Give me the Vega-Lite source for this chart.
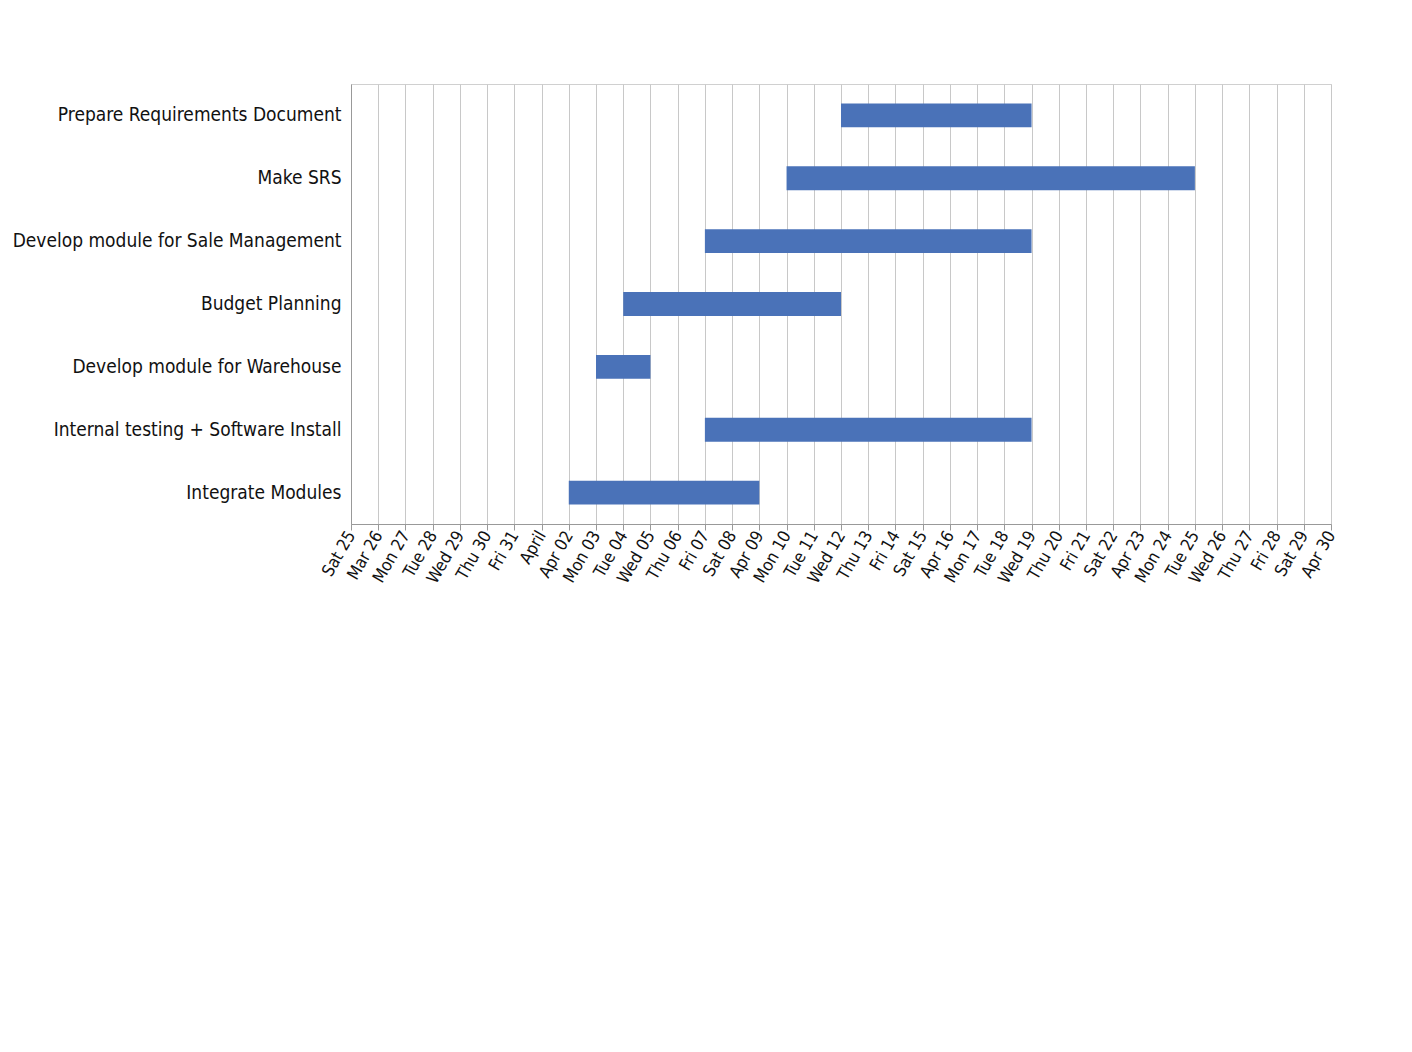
{
  "$schema": "https://vega.github.io/schema/vega-lite/v6.json",
  "width": 980,
  "height": 440,
  "autosize": "none",
  "padding": {"left": 351, "top": 84, "right": 81, "bottom": 528},
  "background": "white",
  "config": {
    "font": "DejaVu Sans Condensed",
    "view": {"stroke": "#d0d0d0"}
  },
  "data": {
    "values": [
      {"task": "Prepare Requirements Document", "start": "2017-04-12", "end": "2017-04-19"},
      {"task": "Make SRS", "start": "2017-04-10", "end": "2017-04-25"},
      {"task": "Develop module for Sale Management", "start": "2017-04-07", "end": "2017-04-19"},
      {"task": "Budget Planning", "start": "2017-04-04", "end": "2017-04-12"},
      {"task": "Develop module for Warehouse", "start": "2017-04-03", "end": "2017-04-05"},
      {"task": "Internal testing + Software Install", "start": "2017-04-07", "end": "2017-04-19"},
      {"task": "Integrate Modules", "start": "2017-04-02", "end": "2017-04-09"}
    ]
  },
  "mark": {"type": "bar", "color": "#4a72b8"},
  "encoding": {
    "y": {
      "field": "task",
      "type": "nominal",
      "sort": null,
      "title": null,
      "scale": {"paddingInner": 0.62, "paddingOuter": 0.31},
      "axis": {"labelFontSize": 19, "labelColor": "#111", "ticks": false, "domainColor": "#999", "labelPadding": 10, "labelLimit": 400}
    },
    "x": {
      "field": "start",
      "type": "temporal",
      "title": null,
      "scale": {"type": "utc", "domain": [{"year": 2017, "month": 3, "date": 25, "utc": true}, {"year": 2017, "month": 4, "date": 30, "utc": true}]},
      "axis": {
        "format": "%d/%m/%Y",
        "formatType": "utc",
        "tickCount": {"interval": "day", "step": 1},
        "labelAngle": -60,
        "labelAlign": "right",
        "labelBaseline": "middle",
        "labelFontSize": 17,
        "labelColor": "#111",
        "labelOverlap": false,
        "labelFlush": false,
        "grid": true,
        "gridColor": "#c8c8c8",
        "domainColor": "#999",
        "tickColor": "#999",
        "tickSize": 6
      }
    },
    "x2": {"field": "end"}
  }
}
